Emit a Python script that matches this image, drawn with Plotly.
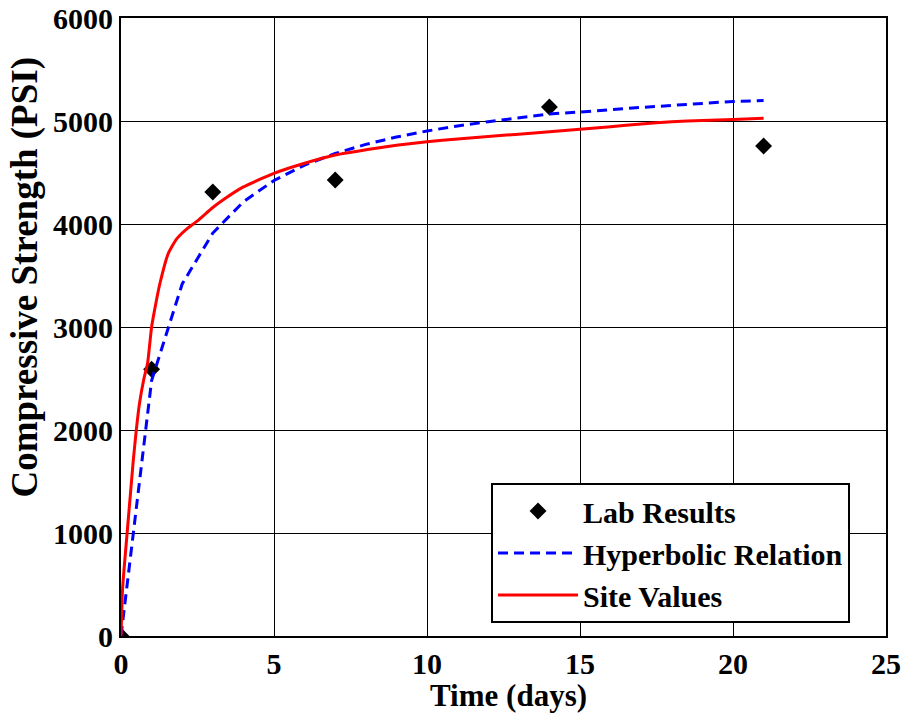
import plotly.graph_objects as go

lab_days = [0, 1, 3, 7, 14, 21]
lab_psi = [0, 2590, 4310, 4427, 5136, 4757]

hyp_days = [0, 1, 2, 3, 4, 5, 6, 7, 8, 9, 10, 11, 12, 13, 14, 15, 16, 17, 18, 19, 20, 21]
hyp_psi = [0, 2480, 3418, 3912, 4216, 4423, 4572, 4685, 4773, 4844, 4903, 4952,
           4993, 5029, 5069, 5087, 5111, 5132, 5151, 5169, 5190, 5198]

site_days = [0, 0.05, 0.1, 0.2, 0.3, 0.4, 0.5, 0.6, 0.75, 0.87, 1.0, 1.16, 1.27, 1.54,
             1.82, 2.2, 2.5, 3.0, 3.33, 4.0, 5.0, 6.0, 7.0, 8.0, 9.0, 10.0, 11.0, 12.0,
             13.0, 14.0, 15.0, 16.0, 17.0, 18.0, 19.0, 20.0, 21.0]
site_psi = [0, 450, 650, 1000, 1350, 1700, 2000, 2250, 2500, 2650, 3000, 3262, 3420, 3710,
            3855, 3965, 4030, 4160, 4233, 4360, 4492, 4590, 4670, 4720, 4765, 4799, 4825,
            4850, 4872, 4895, 4919, 4945, 4970, 4993, 5005, 5015, 5026]

x_title = "Time (days)"
y_title = "Compressive Strength (PSI)"

font_family = "Liberation Serif"

fig = go.Figure()
fig.add_trace(go.Scatter(
    x=lab_days, y=lab_psi, mode="markers", name="<b>Lab Results</b>",
    marker=dict(symbol="diamond", size=13, color="black"),
))
fig.add_trace(go.Scatter(
    x=hyp_days, y=hyp_psi, mode="lines", name="<b>Hyperbolic Relation</b>",
    line=dict(color="#0000ff", width=3, dash="10px,6px"),
))
fig.add_trace(go.Scatter(
    x=site_days, y=site_psi, mode="lines", name="<b>Site Values</b>",
    line=dict(color="#ff0000", width=3, shape="spline", smoothing=0.5),
))

axis_common = dict(
    showgrid=True, gridcolor="black", gridwidth=1,
    showline=True, linecolor="black", linewidth=2, mirror=True,
    zeroline=False, ticks="", automargin=False,
    tickfont=dict(family=font_family, size=30, color="black"),
    tickprefix="<b>", ticksuffix="</b>",
)

fig.update_layout(
    width=907, height=714,
    paper_bgcolor="white", plot_bgcolor="white",
    margin=dict(l=121, r=21, t=18, b=78),
    font=dict(family=font_family, color="black", size=30),
    xaxis=dict(range=[0, 25], dtick=5, **axis_common),
    yaxis=dict(range=[0, 6000], dtick=1000, **axis_common),
    legend=dict(
        x=0.4837, y=0.2476, xanchor="left", yanchor="top",
        bgcolor="white", bordercolor="black", borderwidth=2,
        font=dict(family=font_family, size=30, color="black"),
        itemwidth=80, tracegroupgap=0,
    ),
    showlegend=True,
    annotations=[
        dict(text="<b>" + x_title + "</b>", xref="paper", yref="paper",
             x=0.507, y=0, xanchor="center", yanchor="middle", yshift=-59,
             showarrow=False, font=dict(family=font_family, size=31, color="black")),
        dict(text="<b>" + y_title + "</b>", xref="paper", yref="paper",
             x=0, y=0.580, xanchor="center", yanchor="middle", xshift=-96,
             textangle=-90, showarrow=False,
             font=dict(family=font_family, size=37, color="black")),
    ],
)

fig.write_html(
    "out.html",
    config={"displayModeBar": False},
    post_script="document.body.style.margin='0';document.body.style.padding='0';"
                "document.documentElement.style.margin='0';",
)
